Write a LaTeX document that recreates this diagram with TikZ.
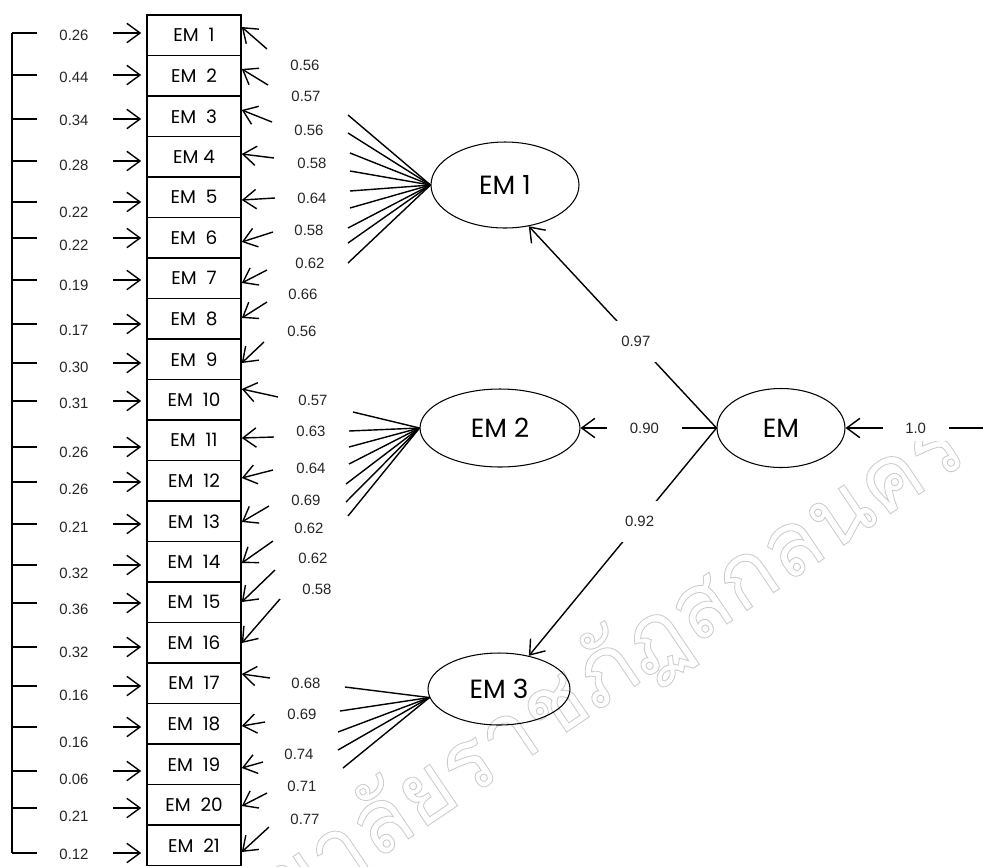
\documentclass[tikz,border=0pt]{standalone}
\usepackage{fontspec}
\setmainfont{Poppins}
\newfontfamily\numfont{Liberation Sans}
\newfontfamily\thaifont[Script=Thai]{Loma}
\usetikzlibrary{arrows.meta, shapes.geometric, calc}

\begin{document}
\begin{tikzpicture}[
    x=0.02cm, y=-0.02cm,
    % Styles
    item/.style={rectangle, draw=black, line width=0.9pt, minimum width=1.88cm, minimum height=0.81cm, inner sep=0pt, font=\fontsize{10.5}{12}\selectfont},
    latent/.style={ellipse, draw=black, line width=0.6pt, inner sep=0pt, font=\fontsize{15}{17}\selectfont},
    arrow/.style={-{Straight Barb[length=7.5pt, width=11pt]}, line width=0.8pt},
    link/.style={line width=0.8pt},
    coef/.style={font=\numfont\fontsize{8.5}{10}\selectfont, text=black!85},
    gapcoef/.style={coef, fill=white, inner sep=0.3cm},
]
\useasboundingbox (0,0) rectangle (983,866);

% ===== WATERMARK =====
\node[rotate=34, anchor=base east, text=gray!40, font=\thaifont\fontsize{51}{53}\selectfont] (mark) at (976,456)
    {\special{pdf:literal direct 1 Tr 0.5 w}มหาวิทยาลัยราชภัฏสกลนคร\special{pdf:literal direct 0 Tr}};

% ===== OBSERVED ITEMS =====
\foreach \i in {1,...,21}
    \node[item] (item\i) at (194, {35.25+40.5*(\i-1)}) {\ifnum\i=4 EM 4\else EM\ \ \i\fi};

% ===== ERRORS (left) =====
\foreach \i/\y/\ly/\v in {1/33/35/0.26, 2/75/77/0.44, 3/119/120/0.34, 4/161/165/0.28, 5/202/212/0.22, 6/238/245/0.22, 7/280/285/0.19, 8/324/330/0.17, 9/363/367/0.30, 10/401/403/0.31, 11/447/452/0.26, 12/482/489/0.26, 13/524/527/0.21, 14/565/573/0.32, 15/603/609/0.36, 16/647/652/0.32, 17/686/695/0.16, 18/727/742/0.16, 19/771/779/0.06, 20/808/816/0.21, 21/853/854/0.12} {
    \coordinate (tick\i) at (12,\y);
    \draw[link] (tick\i) -- ++(25,0);
    \node[coef] (err\i) at (74,\ly) {\v};
    \coordinate (src\i) at (113,\y);
    \draw[arrow] (src\i) -- ([xshift=-0.1cm]src\i -| item\i.west);
}
\draw[link] (tick1) -- (tick21);

% ===== LATENT VARIABLES =====
\node[latent, minimum width=2.96cm, minimum height=1.72cm] (fac1) at (505,185) {EM 1};
\node[latent, minimum width=3.2cm, minimum height=1.56cm] (fac2) at (500,428) {EM 2};
\node[latent, minimum width=2.84cm, minimum height=1.44cm] (fac3) at (499,689) {EM 3};
\node[latent, minimum width=2.56cm, minimum height=1.58cm] (em) at (781,428) {EM};

% ===== LOADINGS (right) =====
\foreach \i/\tx/\ty/\py/\v/\lx/\ly in {1/267/49/27/0.56/305/65, 2/268/85/69/0.57/306/96, 3/272/122/110/0.56/309/130, 4/274/158/154/0.58/312/163, 5/275/198/200/0.64/312/198, 6/273/232/242/0.58/309/230, 7/267/270/283/0.62/310/263, 8/267/302/318/0.66/303/294, 9/264/342/363/0.56/302/331, 10/278/397/389/0.57/313/400, 11/274/437/438/0.63/311/431, 12/273/470/478/0.64/311/468, 13/269/506/522/0.69/306/500, 14/273/541/563/0.62/309/528, 15/275/570/602/0.62/313/558, 16/280/599/643/0.58/317/589, 17/270/678/674/0.68/306/683, 18/265/722/726/0.69/302/714, 19/263/762/768/0.74/299/754, 20/267/793/806/0.71/302/786, 21/269/827/852/0.77/305/819} {
    \coordinate (load\i) at (\tx,\ty);
    \draw[arrow] (load\i) -- (item\i.east |- 0,\py);
    \node[coef] (lam\i) at (\lx,\ly) {\v};
}

% Fans from the factors
\foreach \x/\y [count=\k] in {348/115, 348/133, 350/153, 350/171, 350/191, 350/208, 348/228, 348/243, 348/263} {
    \coordinate (fa\k) at (\x,\y);
    \draw[link] (fac1.west) -- (fa\k);
}
\foreach \x/\y [count=\k] in {353/412, 349/431, 349/447, 349/464, 346/484, 346/502, 348/516} {
    \coordinate (fb\k) at (\x,\y);
    \draw[link] (fac2.west) -- (fb\k);
}
\foreach \x/\y [count=\k] in {345/687, 340/711, 338/732, 338/750, 343/768} {
    \coordinate (fc\k) at (\x,\y);
    \draw[link] (fac3.187) -- (fc\k);
}

% ===== SECOND ORDER =====
\draw[arrow] (em.west) -- (fac1.-60) node[gapcoef, pos=0.43] (g1) {0.97};
\draw[arrow] (em.west) -- (fac2.east) node[gapcoef, pos=0.53, inner sep=0pt, minimum width=1.5cm, minimum height=0.5cm] (g2) {0.90};
\draw[arrow] (em.west) -- (fac3.48) node[gapcoef, pos=0.41] (g3) {0.92};
\coordinate (dist) at (983,428);
\draw[arrow] (dist) -- (em.east) node[gapcoef, pos=0.49, inner sep=0pt, minimum width=1.32cm, minimum height=0.5cm] (g4) {1.0};

\end{tikzpicture}
\end{document}
